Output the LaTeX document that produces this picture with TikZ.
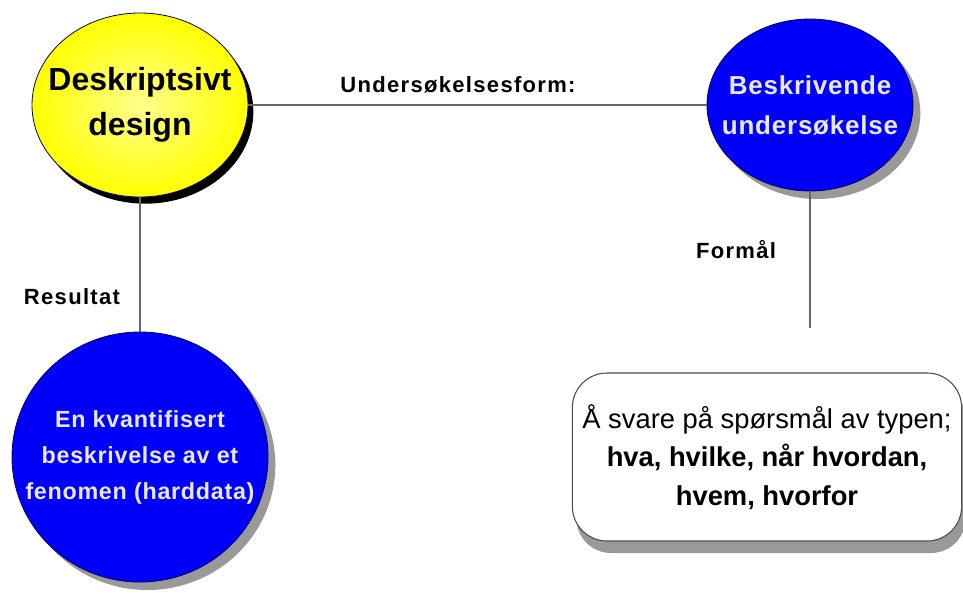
\documentclass[tikz,border=0pt]{standalone}
\usepackage{fontspec}
\setmainfont{Liberation Sans}
\usetikzlibrary{shapes.geometric,shadows}
\definecolor{dyellow}{RGB}{255,255,0}
\definecolor{ublue}{RGB}{0,0,250}
\definecolor{paleblue}{RGB}{232,232,255}
\definecolor{navy}{RGB}{0,0,90}

\begin{document}
\begin{tikzpicture}[x=0.75pt, y=-0.75pt,
    bub/.style = {ellipse, draw=navy, line width=0.6pt, align=center, inner xsep=-30pt, inner ysep=0pt},
    bluebub/.style = {bub, fill=ublue, text=paleblue,
        drop shadow={shadow xshift=5.5pt, shadow yshift=-6pt, fill=black!40, opacity=1}},
    lbl/.style = {font=\fontsize{16.5}{20}\selectfont\bfseries\addfontfeature{LetterSpace=6}},
    con/.style = {draw=black!60, line width=1.5pt}]
    \useasboundingbox (0,0) rectangle (963,593);
    \node[bub, fill=dyellow, shading=radial, inner color=yellow!45!white, outer color=dyellow,
          minimum width=162pt, minimum height=138pt,
          drop shadow={shadow xshift=4pt, shadow yshift=-5pt, fill=black, opacity=1},
          font=\fontsize{24}{34}\selectfont\bfseries] (desk) at (140,105) {Deskriptsivt\\design};
    \node[bluebub, minimum width=154.5pt, minimum height=129pt,
          font=\fontsize{19.5}{30}\selectfont\bfseries\addfontfeature{LetterSpace=3}]
          (besk) [right of=desk, node distance=502.5pt] {Beskrivende\\undersøkelse};
    \node[bluebub, minimum width=192pt, minimum height=187.5pt,
          font=\fontsize{17.5}{27}\selectfont\bfseries\addfontfeature{LetterSpace=3}]
          (kvant) [below of=desk, node distance=264pt] {En kvantifisert\\beskrivelse av et\\fenomen (harddata)};
    \node[draw=black!70, fill=white, rounded corners=26pt, line width=0.8pt,
          minimum width=292pt, minimum height=126pt, align=center,
          drop shadow={shadow xshift=3pt, shadow yshift=-9pt, fill=black!40, opacity=1},
          font=\fontsize{20.5}{29}\selectfont]
          (svar) [right of=kvant, node distance=470.25pt]
          {Å svare på spørsmål av typen;\\\textbf{hva, hvilke, når hvordan,}\\\textbf{hvem, hvorfor}};
    \coordinate (fend) at (810,328);
    \node[lbl] (uform) at (458,85) {Undersøkelsesform:};
    \node[lbl] (res) at (72,297) {Resultat};
    \node[lbl] (form) at (736,250) {Formål};
    \draw[con] (desk) -- (besk);
    \draw[con] (desk) -- (kvant);
    \draw[con] (besk) -- (fend);
\end{tikzpicture}
\end{document}
